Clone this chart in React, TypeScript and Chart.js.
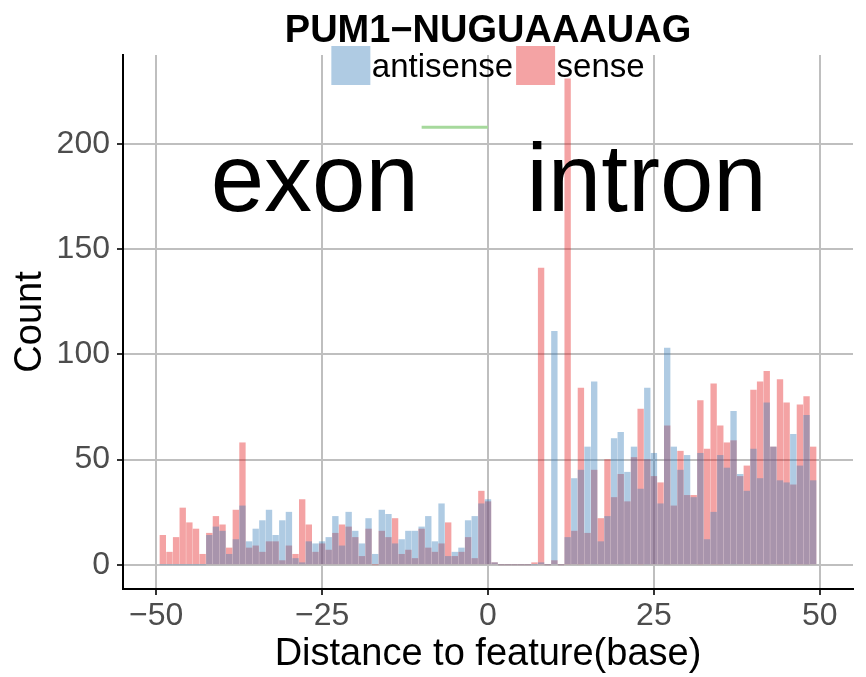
import React, { useEffect, useRef } from "react";
import { Chart, registerables } from "chart.js";

Chart.register(...registerables);

const FONT = '"Liberation Sans", Arial, Helvetica, sans-serif';

const titleText = "PUM1\u2212NUGUAAAUAG";
const legendLabels = ["antisense", "sense"];

const distance = [
  -49, -48, -47, -46, -45, -44, -43, -42, -41, -40,
  -39, -38, -37, -36, -35, -34, -33, -32, -31, -30,
  -29, -28, -27, -26, -25, -24, -23, -22, -21, -20,
  -19, -18, -17, -16, -15, -14, -13, -12, -11, -10,
  -9, -8, -7, -6, -5, -4, -3, -2, -1, 0,
  1, 2, 3, 4, 5, 6, 7, 8, 9, 10,
  11, 12, 13, 14, 15, 16, 17, 18, 19, 20,
  21, 22, 23, 24, 25, 26, 27, 28, 29, 30,
  31, 32, 33, 34, 35, 36, 37, 38, 39, 40,
  41, 42, 43, 44, 45, 46, 47, 48, 49,
];

const antisense = [
  0, 0, 0, 0, 0, 0, 0, 14, 18, 16,
  5, 12, 28, 11, 17, 21, 26, 14, 21, 25,
  3, 1, 11, 10, 11, 13, 23, 9, 25, 16,
  10, 22, 5, 26, 24, 10, 12, 16, 16, 18,
  23, 11, 29, 4, 6, 8, 21, 23, 29, 31,
  1, 0, 0, 0, 0, 0, 0, 1, 0, 111,
  0, 13, 41, 45, 56, 87, 11, 23, 60, 63,
  44, 56, 36, 84, 53, 29, 103, 56, 45, 52,
  32, 53, 12, 25, 52, 46, 73, 43, 35, 55,
  41, 77, 56, 40, 39, 62, 47, 71, 40,
];

const sense = [
  14, 6, 13, 27, 20, 17, 5, 15, 23, 19,
  8, 26, 58, 8, 9, 6, 11, 11, 2, 9,
  5, 31, 19, 6, 10, 7, 15, 19, 18, 13,
  4, 17, 0, 16, 13, 22, 5, 7, 3, 17,
  8, 6, 10, 20, 4, 6, 13, 3, 35, 30,
  1, 0, 0, 0, 0, 0, 1, 141, 0, 2,
  0, 231, 16, 84, 15, 45, 22, 50, 32, 43,
  30, 51, 74, 50, 42, 39, 66, 28, 54, 33,
  33, 78, 55, 86, 66, 58, 59, 42, 47, 83,
  87, 92, 56, 88, 77, 38, 76, 80, 56,
];

// short green segment drawn near the top of the panel
const markerX = [-10, 0];
const markerY = [208, 208];

const xTicks = [-50, -25, 0, 25, 50];
const yTicks = [0, 50, 100, 150, 200];

const annotationLabels = ["exon", "intron"];
const annotationX = [-26.1, 23.9];
const annotationY = [168, 168];

const COLORS = {
  antisense: "rgba(55,126,184,0.4)",
  sense: "rgba(228,26,28,0.4)",
  marker: "#a6d99c",
  grid: "#bfbfbf",
};

const fmt = (v: number) => (v < 0 ? "\u2212" + Math.abs(v) : String(v));

const overlayPlugin = {
  id: "overlay",
  afterDatasetsDraw(chart: any) {
    const { ctx } = chart;
    const xs = chart.scales.x;
    const ys = chart.scales.y;
    ctx.save();
    ctx.fillStyle = "#000";
    ctx.font = `96px ${FONT}`;
    ctx.textAlign = "center";
    ctx.textBaseline = "alphabetic";
    annotationLabels.forEach((t, i) => {
      ctx.fillText(t, xs.getPixelForValue(annotationX[i]), ys.getPixelForValue(annotationY[i]));
    });
    ctx.restore();
  },
  afterDraw(chart: any) {
    const { ctx, chartArea } = chart;
    const cx = (chartArea.left + chartArea.right) / 2;
    ctx.save();
    ctx.fillStyle = "#000";
    ctx.textBaseline = "alphabetic";
    ctx.textAlign = "center";
    ctx.font = `bold 38px ${FONT}`;
    ctx.fillText(titleText, cx, 42);

    ctx.font = `33px ${FONT}`;
    const key = 39;
    const gapText = 1.5;
    const gapItem = 3;
    const colors = [COLORS.antisense, COLORS.sense];
    const widths = legendLabels.map((l) => ctx.measureText(l).width);
    const total =
      widths.reduce((s, w) => s + key + gapText + w, 0) + gapItem * (legendLabels.length - 1);
    let x = cx - total / 2;
    ctx.textAlign = "left";
    legendLabels.forEach((l, i) => {
      ctx.fillStyle = colors[i];
      ctx.fillRect(x, 46, key, key);
      x += key + gapText;
      ctx.fillStyle = "#000";
      ctx.fillText(l, x, 77);
      x += widths[i] + gapItem;
    });
    ctx.restore();
  },
};

export default function App() {
  const ref = useRef<HTMLCanvasElement | null>(null);

  useEffect(() => {
    if (!ref.current) return;
    const chart = new Chart(ref.current, {
      type: "bar",
      data: {
        datasets: [
          {
            type: "bar",
            label: "antisense",
            data: distance.map((x, i) => ({ x, y: antisense[i] })),
            backgroundColor: COLORS.antisense,
            borderWidth: 0,
            barThickness: 5.7,
            grouped: false,
          } as any,
          {
            type: "bar",
            label: "sense",
            data: distance.map((x, i) => ({ x, y: sense[i] })),
            backgroundColor: COLORS.sense,
            borderWidth: 0,
            barThickness: 5.7,
            grouped: false,
          } as any,
          {
            type: "line",
            label: "marker",
            data: markerX.map((x, i) => ({ x, y: markerY[i] })),
            borderColor: COLORS.marker,
            borderWidth: 3,
            pointRadius: 0,
            fill: false,
          } as any,
        ],
      },
      options: {
        animation: false,
        responsive: false,
        devicePixelRatio: 1,
        layout: { padding: { top: 55, right: 13, left: 0, bottom: 0 } },
        plugins: {
          legend: { display: false },
          title: { display: false },
          tooltip: { enabled: false },
        },
        scales: {
          x: {
            type: "linear",
            min: -55,
            max: 55,
            offset: false,
            afterBuildTicks: (s: any) => {
              s.ticks = xTicks.map((v) => ({ value: v }));
            },
            afterFit: (s: any) => {
              s.height = 88;
            },
            grid: {
              offset: false,
              color: COLORS.grid,
              lineWidth: 2,
              drawTicks: true,
              tickLength: 6,
              tickColor: "#333333",
              tickWidth: 2,
            },
            border: { display: true, color: "#000000", width: 2 },
            ticks: {
              font: { family: FONT, size: 32 },
              color: "#4d4d4d",
              padding: 2,
              maxRotation: 0,
              autoSkip: false,
              callback: (v: any) => fmt(Number(v)),
            },
            title: {
              display: true,
              text: "Distance to feature(base)",
              font: { family: FONT, size: 38 },
              color: "#000000",
              padding: { top: 0, bottom: 0 },
            },
          },
          y: {
            type: "linear",
            min: -11.5,
            max: 242.3,
            afterBuildTicks: (s: any) => {
              s.ticks = yTicks.map((v) => ({ value: v }));
            },
            afterFit: (s: any) => {
              s.width = 123;
            },
            grid: {
              color: COLORS.grid,
              lineWidth: 2,
              drawTicks: true,
              tickLength: 6,
              tickColor: "#333333",
              tickWidth: 2,
            },
            border: { display: true, color: "#000000", width: 2 },
            ticks: {
              font: { family: FONT, size: 32 },
              color: "#4d4d4d",
              padding: 7,
              autoSkip: false,
              callback: (v: any) => fmt(Number(v)),
            },
            title: {
              display: true,
              text: "Count",
              font: { family: FONT, size: 38 },
              color: "#000000",
              padding: { top: 8, bottom: 0 },
            },
          },
        },
      } as any,
      plugins: [overlayPlugin as any],
    });
    return () => chart.destroy();
  }, []);

  return (
    <div style={{ position: "absolute", left: 0, top: 0, width: 866, height: 677, background: "#fff" }}>
      <canvas ref={ref} width={866} height={677} style={{ display: "block", width: 866, height: 677 }} />
    </div>
  );
}
